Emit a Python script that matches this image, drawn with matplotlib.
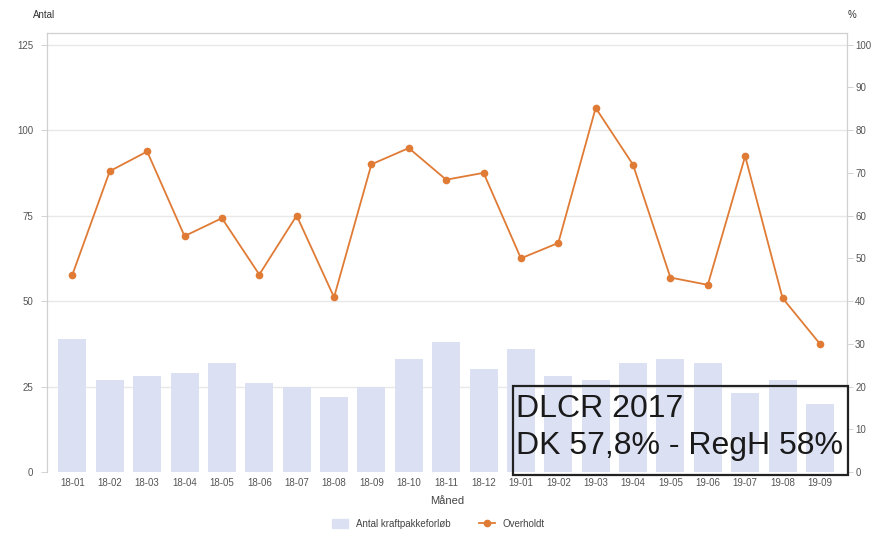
import numpy as np
import matplotlib.pyplot as plt
from matplotlib.lines import Line2D
from matplotlib.patches import Patch, Rectangle

plt.rcParams['font.family'] = ['Liberation Sans', 'DejaVu Sans']

months = ['18-01', '18-02', '18-03', '18-04', '18-05', '18-06', '18-07',
          '18-08', '18-09', '18-10', '18-11', '18-12', '19-01', '19-02',
          '19-03', '19-04', '19-05', '19-06', '19-07', '19-08', '19-09']
antal = [39, 27, 28, 29, 32, 26, 25, 22, 25, 33, 38, 30, 36, 28,
         27, 32, 33, 32, 23, 27, 20]
overholdt = [46.2, 70.4, 75.0, 55.2, 59.4, 46.2, 60.0, 40.9, 72.0, 75.8,
             68.4, 70.0, 50.0, 53.6, 85.2, 71.9, 45.5, 43.8, 73.9, 40.7, 30.0]
left_ticks = [0, 25, 50, 75, 100, 125]
right_ticks = [0, 10, 20, 30, 40, 50, 60, 70, 80, 90, 100]

bar_col = '#dbe1f3'
line_col = '#e07b35'
grid_col = '#e8e8e8'
tick_col = '#555555'

fig = plt.figure(figsize=(8.77, 5.37), dpi=100)
ax = fig.add_axes([0.0536, 0.121, 0.912, 0.8175])
x = np.arange(len(months))

ax.bar(x, antal, width=0.75, color=bar_col, zorder=2)
ax.set_xlim(-0.68, len(months) - 1 + 0.72)
ax.set_ylim(0, 128.4)
ax.set_yticks(left_ticks)
for t in left_ticks[1:]:
    ax.axhline(t, color=grid_col, lw=1, zorder=1)
ax.set_xticks(x)
ax.set_xticklabels(months)
ax.tick_params(axis='x', length=0, labelsize=7, colors=tick_col, pad=4)
ax.tick_params(axis='y', length=4, labelsize=7, colors=tick_col, width=0.6, pad=6)
ax.tick_params(axis='y', color='#cccccc')
for s in ['left', 'top', 'right']:
    ax.spines[s].set_color('#d0d0d0')
ax.spines['bottom'].set_visible(False)
ax.set_xlabel('Måned', fontsize=8, color='#444444', labelpad=6)

ax2 = ax.twinx()
ax2.plot(x, overholdt, color=line_col, lw=1.3, marker='o', ms=4.5,
         mfc=line_col, mec=line_col, zorder=3)
ax2.set_ylim(0, 128.4 * 0.8)
ax2.set_yticks(right_ticks)
ax2.tick_params(axis='y', length=4, labelsize=7, colors=tick_col, width=0.6, pad=2)
ax2.tick_params(axis='y', color='#cccccc')
for s in ['left', 'top', 'right']:
    ax2.spines[s].set_color('#d0d0d0')
ax2.spines['bottom'].set_visible(False)

fig.text(0.038, 0.972, 'Antal', fontsize=7, color='#333333', va='center')
fig.text(0.966, 0.972, '%', fontsize=7, color='#333333', va='center')

handles = [Patch(color=bar_col, label='Antal kraftpakkeforløb'),
           Line2D([0], [0], color=line_col, lw=1.3, marker='o', ms=4.5,
                  label='Overholdt')]
fig.legend(handles=handles, loc='center', bbox_to_anchor=(0.5, 0.024),
           ncol=2, frameon=False, fontsize=7, handlelength=1.6,
           handleheight=1.0, columnspacing=3, labelcolor='#444444')

# annotation box
fig.patches.append(Rectangle((0.585, 0.1155), 0.382, 0.1655, fill=False,
                             ec='#222222', lw=1.6, transform=fig.transFigure,
                             zorder=10))
fig.text(0.588, 0.2235, 'DLCR 2017', fontsize=23, color='#1a1a1a',
         ha='left', va='baseline', zorder=10)
fig.text(0.588, 0.1546, 'DK 57,8% - RegH 58%', fontsize=23, color='#1a1a1a',
         ha='left', va='baseline', zorder=10)

fig.savefig('out.png', dpi=100)
